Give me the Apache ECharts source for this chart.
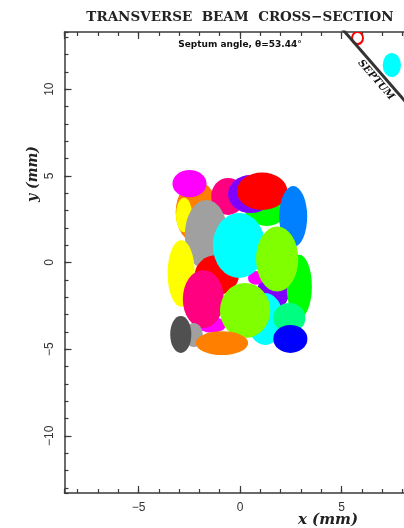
<!DOCTYPE html>
<html>
<head>
<meta charset="utf-8">
<script src="https://cdn.jsdelivr.net/npm/echarts@6/dist/echarts.min.js"></script>
<style>
  html, body { margin: 0; padding: 0; background: #ffffff; }
  #chart { width: 404px; height: 528px; }
</style>
</head>
<body>
<div id="chart"></div>
<script>
// Beam spots in the transverse plane: centre (mm), half-widths (mm), colour.
const beamX  = [-2.13, -2.76, 1.31, 2.57, -0.59, 0.52, 1.09, -2.49, 2.62, -1.66, 1.63, 0.79, 2.92, -1.14, -0.05, 1.83, -2.90, 1.24, 2.43, -1.39, -1.81, 0.25, -2.28, -2.92, 2.48, -0.89, 7.48];
const beamY  = [2.91, 2.74, 3.43, 3.32, 3.81, 3.95, 4.11, 4.55, 2.65, 1.59, -1.70, -0.89, -1.38, -0.72, 0.98, 0.20, -0.63, -3.26, -3.20, -3.60, -2.11, -2.77, -4.18, -4.15, -4.41, -4.65, 11.40];
const beamRx = [1.04, 0.40, 1.16, 0.50, 0.83, 1.11, 1.24, 0.84, 0.69, 1.06, 0.79, 0.40, 0.62, 1.09, 1.29, 1.04, 0.67, 0.89, 0.79, 0.69, 1.01, 1.24, 0.45, 0.52, 0.84, 1.29, 0.45];
const beamRy = [1.79, 1.00, 1.33, 0.87, 1.07, 1.10, 1.08, 0.79, 1.76, 2.02, 1.04, 0.40, 1.82, 1.15, 1.88, 1.88, 1.93, 1.50, 0.87, 0.46, 1.67, 1.59, 0.69, 1.07, 0.81, 0.69, 0.69];
const beamColor = ['#ff8000', '#ffff00', '#00ff00', '#0000ff', '#ff0080', '#8000ff', '#ff0000', '#ff00ff', '#0080ff', '#a0a0a0', '#8000ff', '#ff00ff', '#00ff00', '#ff0000', '#00ffff', '#80ff00', '#ffff00', '#00ffff', '#00ff80', '#ff00ff', '#ff0080', '#80ff00', '#a0a0a0', '#505050', '#0000ff', '#ff8000', '#00ffff'];

// Spot sitting on the septum blade, drawn as an outline only.
const bladeSpotX = [5.79];
const bladeSpotY = [12.95];
const bladeSpotRx = [0.27];
const bladeSpotRy = [0.35];

// Septum: where it meets the top of the window and its angle.
const septumTopX = 5.17;
const septumAngle = 53.44;

// Axis ranges and labelled ticks (mm).
const xRange = [-8.65, 8.08];
const yRange = [-13.3, 13.3];
const xTickLabels = [-5, 0, 5];
const yTickLabels = [-10, -5, 0, 5, 10];

const chart = echarts.init(document.getElementById('chart'), null, { renderer: 'canvas' });

const minus = v => String(v).replace('-', '\u2212');
const labelFmt = list => v => (list.indexOf(Math.round(v * 1000) / 1000) >= 0 ? minus(v) : '');

const frameColor = '#3a3a3a';

function axisPair(kind, position, withLabels) {
  const range = kind === 'x' ? xRange : yRange;
  const labels = kind === 'x' ? xTickLabels : yTickLabels;
  const base = {
    type: 'value', position: position, min: range[0], max: range[1],
    splitLine: { show: false }
  };
  const minor = Object.assign({}, base, {
    splitNumber: 20, minInterval: 1, maxInterval: 1,
    axisLine: { show: true, onZero: false, lineStyle: { color: frameColor, width: 1.5 } },
    axisTick: { show: true, inside: true, length: 4, lineStyle: { color: frameColor, width: 1.2 } },
    axisLabel: { show: false }
  });
  const major = Object.assign({}, base, {
    splitNumber: 4, minInterval: 5, maxInterval: 5,
    axisLine: { show: false, onZero: false },
    axisTick: { show: true, inside: true, length: 7, lineStyle: { color: frameColor, width: 1.2 } },
    axisLabel: withLabels ? {
      show: true, inside: false, margin: 9,
      rotate: kind === 'y' ? 90 : 0,
      showMinLabel: false, showMaxLabel: false,
      fontFamily: 'Liberation Sans', fontSize: 12, color: '#333',
      formatter: labelFmt(labels)
    } : { show: false }
  });
  return [minor, major];
}

const xAxes = [].concat(axisPair('x', 'bottom', true), axisPair('x', 'top', false));
const yAxes = [].concat(axisPair('y', 'left', true));

const beamData = beamX.map((x, i) => [x, beamY[i], beamRx[i], beamRy[i], i]);
const bladeData = bladeSpotX.map((x, i) => [x, bladeSpotY[i], bladeSpotRx[i], bladeSpotRy[i]]);

// Septum line through its top point at the given angle.
const rad = septumAngle * Math.PI / 180;
const septumLine = [
  [septumTopX - 2 * Math.cos(rad), yRange[1] + 2 * Math.sin(rad)],
  [septumTopX + 12 * Math.cos(rad), yRange[1] - 12 * Math.sin(rad)]
];

function ellipseItem(api, style) {
  const c = api.coord([api.value(0), api.value(1)]);
  const s = api.size([api.value(2), api.value(3)]);
  return {
    type: 'circle', x: c[0], y: c[1], scaleX: 1, scaleY: s[1] / s[0],
    shape: { cx: 0, cy: 0, r: s[0] },
    style: style
  };
}

chart.setOption({
  animation: false,
  backgroundColor: '#ffffff',
  title: {
    text: 'TRANSVERSE  BEAM  CROSS\u2212SECTION',
    left: 235, top: 5, textAlign: 'center',
    textStyle: { fontFamily: 'DejaVu Serif', fontSize: 13.5, fontWeight: 'bold', color: '#222' }
  },
  grid: { left: 64.5, top: 32, right: 0, bottom: 35, containLabel: false },
  xAxis: xAxes,
  yAxis: yAxes,
  series: [
    {
      type: 'custom', xAxisIndex: 0, yAxisIndex: 0, clip: true,
      data: beamData,
      renderItem: (params, api) => ellipseItem(api, { fill: beamColor[api.value(4)] })
    },
    {
      type: 'custom', xAxisIndex: 0, yAxisIndex: 0, clip: true,
      data: bladeData,
      renderItem: (params, api) => ellipseItem(api, { fill: 'none', stroke: '#ff0000', lineWidth: 2 })
    },
    {
      type: 'line', xAxisIndex: 0, yAxisIndex: 0, clip: true,
      data: septumLine, symbol: 'none',
      lineStyle: { color: '#333', width: 3 }
    }
  ],
  graphic: [
    {
      type: 'text', x: 240, y: 45,
      style: {
        text: 'Septum angle, \u03b8=' + septumAngle.toFixed(2) + '\u00b0',
        fontFamily: 'DejaVu Sans', fontSize: 9, fontWeight: 'bold', fill: '#111',
        textAlign: 'center', textVerticalAlign: 'middle'
      }
    },
    {
      type: 'text', x: 328, y: 520,
      style: {
        text: 'x (mm)', fontFamily: 'DejaVu Serif', fontStyle: 'italic', fontWeight: 'bold',
        fontSize: 15, fill: '#222', textAlign: 'center', textVerticalAlign: 'middle'
      }
    },
    {
      type: 'text', x: 33, y: 174, rotation: Math.PI / 2,
      style: {
        text: 'y (mm)', fontFamily: 'DejaVu Serif', fontStyle: 'italic', fontWeight: 'bold',
        fontSize: 14, fill: '#222', textAlign: 'center', textVerticalAlign: 'middle'
      }
    }
  ]
});

// "SEPTUM" label laid along the septum, on the beam side.
const p0 = chart.convertToPixel({ xAxisIndex: 0, yAxisIndex: 0 }, septumLine[0]);
const p1 = chart.convertToPixel({ xAxisIndex: 0, yAxisIndex: 0 }, septumLine[1]);
const ang = Math.atan2(p1[1] - p0[1], p1[0] - p0[0]);
const along = chart.convertToPixel({ xAxisIndex: 0, yAxisIndex: 0 }, [septumTopX + 3.07 * Math.cos(rad), yRange[1] - 3.07 * Math.sin(rad)]);
chart.setOption({
  graphic: [
    {}, {}, {},
    {
      type: 'text', x: along[0] - 8 * Math.sin(ang), y: along[1] + 8 * Math.cos(ang), rotation: -ang,
      style: {
        text: 'SEPTUM', fontFamily: 'DejaVu Serif', fontStyle: 'italic', fontWeight: 'bold',
        fontSize: 10, fill: '#111', textAlign: 'center', textVerticalAlign: 'middle'
      }
    }
  ]
});
</script>
</body>
</html>
